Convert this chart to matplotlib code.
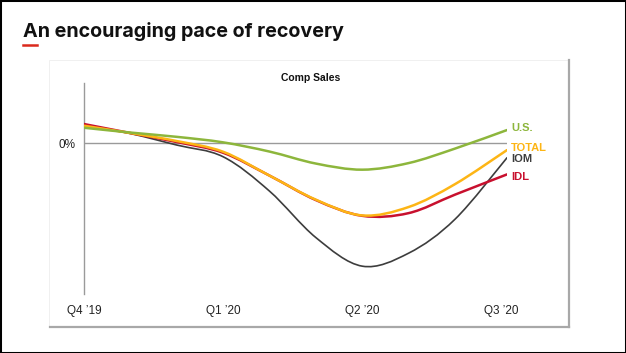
import matplotlib
matplotlib.use("Agg")
import matplotlib.pyplot as plt
import numpy as np
from matplotlib.lines import Line2D
from matplotlib.patches import PathPatch, Rectangle
from matplotlib.path import Path

W, H = 626, 353

# Quarter positions (0 = Q4 '19 ... 3 = Q3 '20)
x = [0.0, 0.333, 0.667, 1.0, 1.333, 1.667, 2.0, 2.333, 2.667, 3.04]

us = [3.12, 2.16, 1.30, 0.20, -1.64, -4.04, -5.26, -3.94, -1.04, 2.66]
total = [3.52, 2.06, 0.46, -1.68, -6.44, -11.26, -14.40, -12.72, -8.14, -1.34]
idl = [3.86, 2.06, 0.26, -1.88, -6.44, -11.34, -14.48, -13.94, -10.24, -6.20]
iom = [3.66, 1.96, -0.34, -2.68, -9.54, -18.84, -24.54, -21.94, -15.14, -2.88]

quarters = [0, 1, 2, 3]
quarter_labels = ["Q4 \u201919", "Q1 \u201920", "Q2 \u201920", "Q3 \u201920"]

GREEN = "#8DB63C"
ORANGE = "#FDB515"
RED = "#C8102E"
GRAY = "#3D3D3D"
AXIS_GRAY = "#9A9A9A"


def fx(px):
    return px / W


def fy(py):
    return 1 - py / H


def smooth_path(xs, ys):
    # Catmull-Rom through the points, drawn as cubic Bezier segments
    p = np.column_stack([xs, ys]).astype(float)
    pts = np.vstack([p[0], p, p[-1]])
    verts = [p[0]]
    codes = [Path.MOVETO]
    for i in range(1, len(pts) - 2):
        p0, p1, p2, p3 = pts[i - 1], pts[i], pts[i + 1], pts[i + 2]
        verts += [p1 + (p2 - p0) / 6, p2 - (p3 - p1) / 6, p2]
        codes += [Path.CURVE4] * 3
    return Path(verts, codes)


fig = plt.figure(figsize=(W / 100, H / 100), dpi=100, facecolor="white")

# outer slide border
fig.patches.append(Rectangle((0, 0), 1, 1, transform=fig.transFigure,
                             fill=False, edgecolor="black", linewidth=2.2, zorder=0))

# inner card with shadow on right / bottom
fig.patches.append(Rectangle((fx(49), fy(326)), fx(568) - fx(49), fy(60) - fy(326),
                             transform=fig.transFigure, facecolor="white",
                             edgecolor="#EEEEEE", linewidth=0.6, zorder=-1))
fig.lines.append(Line2D([fx(568.5), fx(568.5)], [fy(60), fy(327)],
                        transform=fig.transFigure, color="#A8A8A8", linewidth=1.6, zorder=0))
fig.lines.append(Line2D([fx(50), fx(569)], [fy(326.5), fy(326.5)],
                        transform=fig.transFigure, color="#A8A8A8", linewidth=1.6, zorder=0))

# title + red accent
fig.text(fx(23), fy(37), "An encouraging pace of recovery", family="Inter",
         fontweight="bold", fontsize=14.2, color="#111111", va="baseline", ha="left")
fig.lines.append(Line2D([fx(23), fx(37)], [fy(45), fy(45)], transform=fig.transFigure,
                        color="#DA291C", linewidth=1.8))

ax = fig.add_axes([fx(84), fy(294), fx(507) - fx(84), fy(83) - fy(294)])
ax.set_zorder(5)
ax.set_xlim(0, 3.04)
ax.set_ylim(-30.1, 12.06)
ax.patch.set_alpha(0)
for s in ["top", "right", "bottom"]:
    ax.spines[s].set_visible(False)
ax.spines["left"].set_color(AXIS_GRAY)
ax.spines["left"].set_linewidth(1.0)

ax.plot([0, x[-1]], [0, 0], color=AXIS_GRAY, linewidth=1.0, zorder=1)

series = [(iom, GRAY, 1.2, 2), (idl, RED, 1.8, 3), (total, ORANGE, 1.8, 4), (us, GREEN, 1.8, 5)]
for ys, col, lw, z in series:
    ax.add_patch(PathPatch(smooth_path(x, ys), facecolor="none", edgecolor=col,
                           linewidth=lw, zorder=z, capstyle="round"))

ax.set_yticks([0])
ax.set_yticklabels(["0%"], fontsize=8.5, family="Liberation Sans", color="#222222")
ax.tick_params(axis="y", length=0, pad=6)
ax.set_xticks(quarters)
ax.set_xticklabels(quarter_labels, fontsize=8.5, family="Liberation Sans", color="#222222")
ax.tick_params(axis="x", length=0, pad=8)

ax.set_title("Comp Sales", fontsize=7.5, family="Liberation Sans", fontweight="bold",
             color="#111111", pad=0)
ax.title.set_position(((311 - 84) / (507 - 84), 1.02))

# series labels at the right end
end_labels = [("U.S.", 128.3, GREEN), ("TOTAL", 147.7, ORANGE),
              ("IOM", 159.3, GRAY), ("IDL", 176.7, RED)]
for text, py, col in end_labels:
    fig.text(fx(511), fy(py), text, family="Liberation Sans", fontweight="bold",
             fontsize=8, color=col, va="center", ha="left", zorder=6)

fig.savefig("out.png", dpi=100, facecolor="white")
